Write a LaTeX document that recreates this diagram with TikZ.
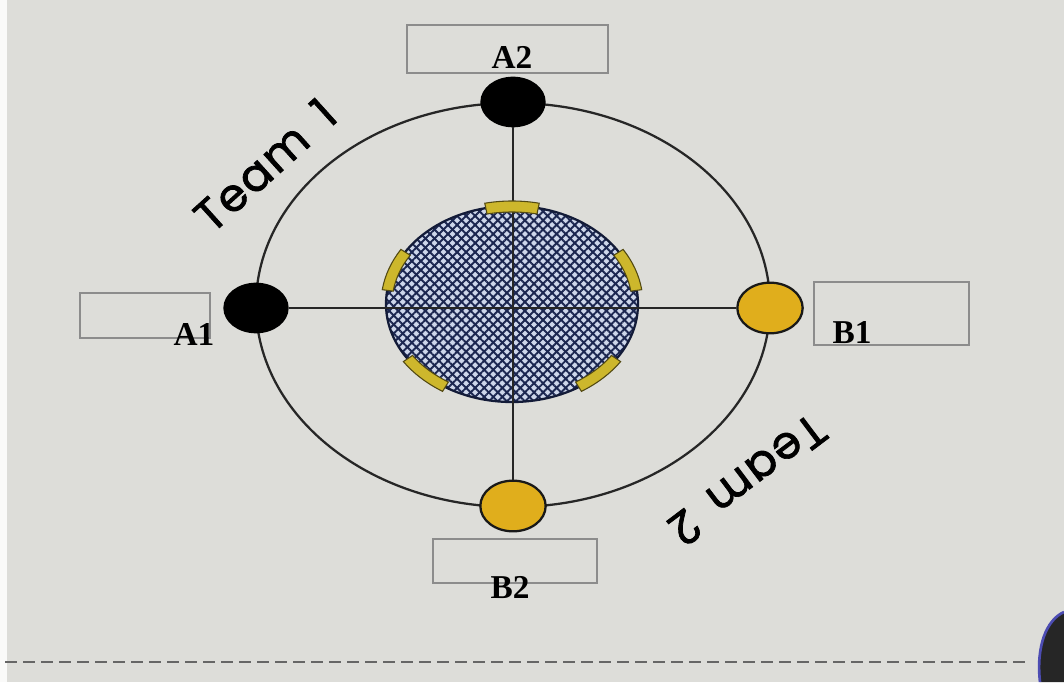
\documentclass[tikz,border=0pt]{standalone}
\usepackage{fontspec}
\setmainfont{Liberation Serif}
\newfontfamily\teamfont{Poppins}[FakeBold=1.6,LetterSpace=4,WordSpace=1.6]
\usetikzlibrary{patterns.meta,shapes.geometric}
\definecolor{bgc}{HTML}{DDDDD9}
\definecolor{boxc}{HTML}{8C8C8C}
\definecolor{navy}{HTML}{1B2650}
\definecolor{hole}{HTML}{CDD6EA}
\definecolor{goldc}{HTML}{E0AE1C}
\definecolor{segc}{HTML}{CDB72C}
\begin{document}
\begin{tikzpicture}[x=0.75pt,y=0.75pt,
  ring/.style={draw=black!85,line width=1.7pt},
  axis/.style={draw=black!85,line width=1.4pt},
  blackdot/.style={ellipse,fill=black,draw=black,line width=1pt,inner sep=0pt,minimum width=48pt,minimum height=37pt},
  golddot/.style={ellipse,fill=goldc,draw=black!90,line width=1.7pt,inner sep=0pt,minimum width=49pt,minimum height=38pt},
  labelbox/.style={draw=boxc,line width=0.9pt},
  lbl/.style={font=\bfseries\fontsize{25}{25}\selectfont,inner sep=0pt},
  teamlbl/.style={font=\teamfont\fontsize{34}{34}\selectfont,inner sep=0pt},
  seg/.style={fill=segc,draw=black!60!segc,line width=0.8pt}
]
\useasboundingbox (0,0) rectangle (1064,682);
\fill[bgc] (0,0) rectangle (1064,682);
\fill[white!85!bgc] (0,0) rectangle (7,682);

% outer ring
\draw[ring] (513,377) ellipse [x radius=257, y radius=202];

% inner hatched disc
\fill[hole] (512,378) ellipse [x radius=126, y radius=98];
\fill[pattern={Lines[angle=45,distance=4.8pt,line width=1.45pt]},pattern color=navy] (512,378) ellipse [x radius=126, y radius=98];
\fill[pattern={Lines[angle=-45,distance=4.8pt,line width=1.45pt]},pattern color=navy] (512,378) ellipse [x radius=126, y radius=98];
\draw[line width=1.7pt,navy!70!black] (512,378) ellipse [x radius=126, y radius=98];

% team dots
\node[blackdot] (a2) at (513,580) {};
\node[blackdot] (a1) at (256,374) {};
\node[golddot] (b1) at (770,374) {};
\node[golddot] (b2) at (513,176) {};

% axes
\draw[axis] (a1) -- (b1);
\draw[axis] (a2) -- (b2);

% yellow segments on the inner disc
\foreach \a in {90,20,-46,-134,160}{
  \filldraw[seg] ([shift={(512,378)}]\a-12:131 and 103)
    arc[start angle=\a-12,end angle=\a+12,x radius=131,y radius=103]
    -- ([shift={(512,378)}]\a+12:120 and 92)
    arc[start angle=\a+12,end angle=\a-12,x radius=120,y radius=92]
    -- cycle;
}

% label boxes
\draw[labelbox] (407,609) rectangle (608,657);
\draw[labelbox] (80,344) rectangle (210,389);
\draw[labelbox] (814,337) rectangle (969,400);
\draw[labelbox] (433,99) rectangle (597,143);

\node[lbl] (la2) at (512,625) {A2};
\node[lbl] (la1) at (194,347) {A1};
\node[lbl] (lb1) at (852,349) {B1};
\node[lbl] (lb2) at (510,94) {B2};

% team labels
\node[teamlbl,rotate=42] (t1) at (265,517) {Team 1};
\node[teamlbl,rotate=217] (t2) at (748,202) {Team 2};

% dashed line at the bottom
\draw[black!60,line width=1.2pt,dash pattern=on 9pt off 4.5pt] (5,20) -- (1025,20);

% dark object at the lower right corner
\fill[black!85] (1064,70) .. controls (1046,62) and (1036,35) .. (1040,0) -- (1064,0) -- cycle;
\draw[gray!60!blue,line width=2pt] (1064,70) .. controls (1046,62) and (1036,35) .. (1040,0);
\end{tikzpicture}
\end{document}
